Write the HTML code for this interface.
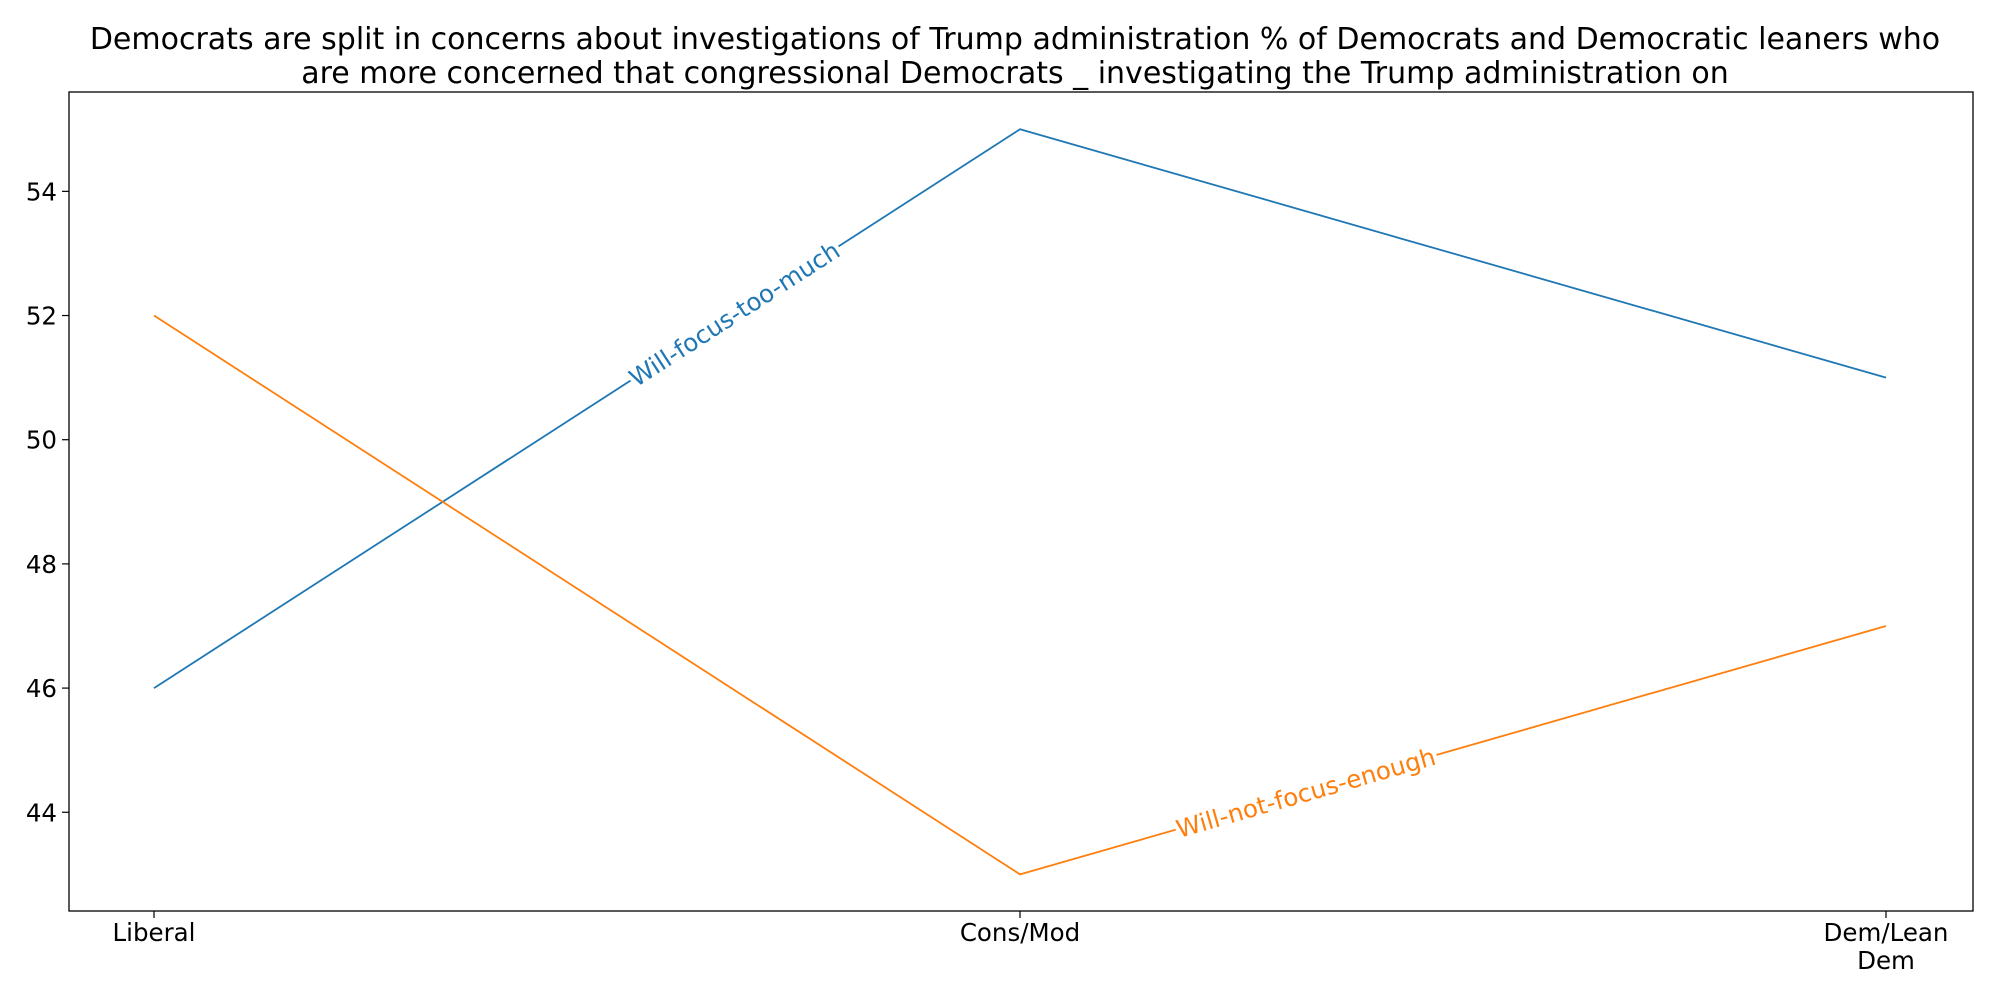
<!DOCTYPE html>
<html><head><meta charset="utf-8"><style>
body{margin:0;background:#fff}
svg text{font-family:"DejaVu Sans","Liberation Sans",sans-serif}
</style></head><body>
<svg id="chart" width="2000" height="1000" xmlns="http://www.w3.org/2000/svg">
<text x="1015" y="49" font-size="30" text-anchor="middle">Democrats are split in concerns about investigations of Trump administration % of Democrats and Democratic leaners who</text>
<text x="1015" y="83" font-size="30" text-anchor="middle">are more concerned that congressional Democrats _ investigating the Trump administration on</text>
<g id="plot"></g>
<rect x="69" y="92" width="1904" height="819" fill="none" stroke="#000" stroke-width="1.3"/>
</svg>
<script>
const categories = ["Liberal", "Cons/Mod", "Dem/Lean Dem"];
const tooMuch = [46, 55, 51];
const notEnough = [52, 43, 47];
const yTicks = [44, 46, 48, 50, 52, 54];
const seriesNames = ["Will-focus-too-much", "Will-not-focus-enough"];

const NS = "http://www.w3.org/2000/svg";
const g = document.getElementById('plot');
const L = 69, R = 1973, T = 92, B = 911;
const yMin = 42.41, yMax = 55.6;
const x = i => 154 + i * (1886 - 154) / (categories.length - 1);
const y = v => B - (v - yMin) / (yMax - yMin) * (B - T);
function mk(tag, attrs) { const e = document.createElementNS(NS, tag); for (const k in attrs) e.setAttribute(k, attrs[k]); g.appendChild(e); return e; }

yTicks.forEach(t => {
  const tk = mk('line', {x1: L - 7, x2: L, y1: y(t), y2: y(t), stroke: '#000', 'stroke-width': 1.2});
  
  
  const tx = mk('text', {x: L - 12, y: y(t) + 9, 'font-size': 24.5, 'text-anchor': 'end'});
  tx.textContent = t;
  
  
});
categories.forEach((c, i) => {
  const tk = mk('line', {x1: x(i), x2: x(i), y1: B, y2: B + 7, stroke: '#000', 'stroke-width': 1.2});
  
  
  const parts = c === "Dem/Lean Dem" ? ["Dem/Lean", "Dem"] : [c];
  parts.forEach((p, j) => {
    const tx = mk('text', {x: x(i), y: B + 30 + j * 28, 'font-size': 24.5, 'text-anchor': 'middle'});
    tx.textContent = p;
    
    
  });
});
function series(vals, color, name, seg, frac) {
  const pts = vals.map((v, i) => x(i) + ',' + y(v)).join(' ');
  const pl = mk('polyline', {points: pts, fill: 'none', stroke: color, 'stroke-width': 1.8});
  
  
  const x0 = x(seg), y0 = y(vals[seg]), x1 = x(seg + 1), y1 = y(vals[seg + 1]);
  const cx = x0 + (x1 - x0) * frac, cy = y0 + (y1 - y0) * frac;
  const ang = Math.atan2(y1 - y0, x1 - x0) * 180 / Math.PI;
  const tx = mk('text', {x: 0, y: 9, 'font-size': 24.5, 'text-anchor': 'middle', fill: color, transform: `translate(${cx},${cy}) rotate(${ang})`, stroke: '#fff', 'stroke-width': 8, 'paint-order': 'stroke'});
  tx.textContent = name;
  
  
}
series(tooMuch, '#1f77b4', seriesNames[0], 0, 0.67);
series(notEnough, '#ff7f0e', seriesNames[1], 1, 0.33);
</script>
</body></html>
